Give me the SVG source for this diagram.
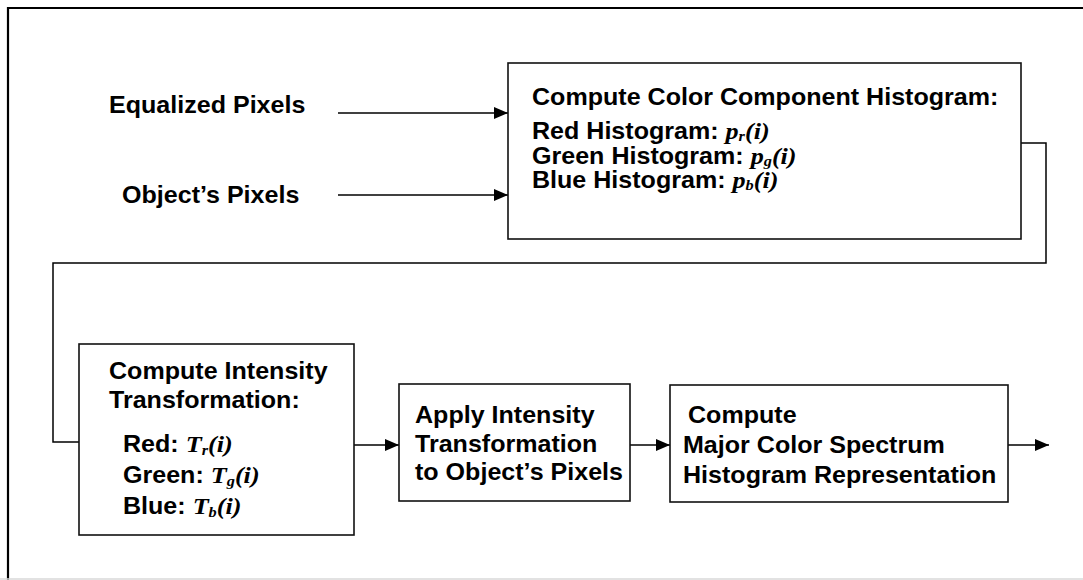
<svg xmlns="http://www.w3.org/2000/svg" width="1083" height="580" viewBox="0 0 1083 580">
<style>
.t{font-family:"Liberation Sans",Arial,sans-serif;font-weight:bold;font-size:23px;fill:#000}
.m{font-family:"Liberation Serif","Times New Roman",serif;font-weight:bold;font-style:italic;font-size:24px}
.s{font-size:15px}
.box{fill:#fff;stroke:#111;stroke-width:1.6}
.ln{fill:none;stroke:#000;stroke-width:1.5}
</style>
<defs>
<marker id="ah" markerWidth="14" markerHeight="12" refX="14" refY="6" orient="auto" markerUnits="userSpaceOnUse">
<path d="M0,0 L14,6 L0,12 Z" fill="#000"/>
</marker>
</defs>
<rect width="1083" height="580" fill="#fff"/>
<g id="frame">
<path d="M8,580 V8 H1083" fill="none" stroke="#000" stroke-width="2.2"/>
<line x1="0" y1="579" x2="1083" y2="579" stroke="#d8d8d8" stroke-width="1.5"/>
</g>
<g id="connectors">
<line class="ln" x1="338" y1="113" x2="508" y2="113" marker-end="url(#ah)"/>
<line class="ln" x1="338" y1="195" x2="508" y2="195" marker-end="url(#ah)"/>
<path class="ln" d="M1021,143 H1046 V263 H53 V442 H79"/>
<line class="ln" x1="354" y1="445" x2="399" y2="445" marker-end="url(#ah)"/>
<line class="ln" x1="630" y1="445" x2="670" y2="445" marker-end="url(#ah)"/>
<line class="ln" x1="1008" y1="445" x2="1049" y2="445" marker-end="url(#ah)"/>
</g>
<g id="equalized">
<text class="t" transform="translate(109,113) scale(1.09,1)">Equalized Pixels</text>
</g>
<g id="objects">
<text class="t" transform="translate(122,203) scale(1.09,1)">Object’s Pixels</text>
</g>
<g id="histogram">
<rect class="box" x="508" y="63" width="513" height="176"/>
<text class="t" transform="translate(532,105) scale(1.09,1)">Compute Color Component Histogram:</text>
<text class="t" transform="translate(532,139) scale(1.09,1)">Red Histogram: <tspan class="m">p</tspan><tspan class="m s" dy="2">r</tspan><tspan class="m" dy="-2">(i)</tspan></text>
<text class="t" transform="translate(532,164) scale(1.09,1)">Green Histogram: <tspan class="m">p</tspan><tspan class="m s" dy="2">g</tspan><tspan class="m" dy="-2">(i)</tspan></text>
<text class="t" transform="translate(532,188) scale(1.09,1)">Blue Histogram: <tspan class="m">p</tspan><tspan class="m s" dy="2">b</tspan><tspan class="m" dy="-2">(i)</tspan></text>
</g>
<g id="intensity">
<rect class="box" x="79" y="344" width="275" height="191"/>
<text class="t" transform="translate(109,379) scale(1.09,1)">Compute Intensity</text>
<text class="t" transform="translate(109,408) scale(1.09,1)">Transformation:</text>
<text class="t" transform="translate(123,452) scale(1.09,1)">Red: <tspan class="m">T</tspan><tspan class="m s" dy="3">r</tspan><tspan class="m" dy="-3">(i)</tspan></text>
<text class="t" transform="translate(123,483) scale(1.09,1)">Green: <tspan class="m">T</tspan><tspan class="m s" dy="3">g</tspan><tspan class="m" dy="-3">(i)</tspan></text>
<text class="t" transform="translate(123,514) scale(1.09,1)">Blue: <tspan class="m">T</tspan><tspan class="m s" dy="3">b</tspan><tspan class="m" dy="-3">(i)</tspan></text>
</g>
<g id="apply">
<rect class="box" x="399" y="384" width="231" height="117"/>
<text class="t" transform="translate(415,423) scale(1.09,1)">Apply Intensity</text>
<text class="t" transform="translate(415,452) scale(1.09,1)">Transformation</text>
<text class="t" transform="translate(415,480) scale(1.09,1)">to Object’s Pixels</text>
</g>
<g id="spectrum">
<rect class="box" x="670" y="385" width="338" height="117"/>
<text class="t" transform="translate(688,423) scale(1.09,1)">Compute</text>
<text class="t" transform="translate(683,453) scale(1.09,1)">Major Color Spectrum</text>
<text class="t" transform="translate(683,483) scale(1.09,1)">Histogram Representation</text>
</g>
</svg>
